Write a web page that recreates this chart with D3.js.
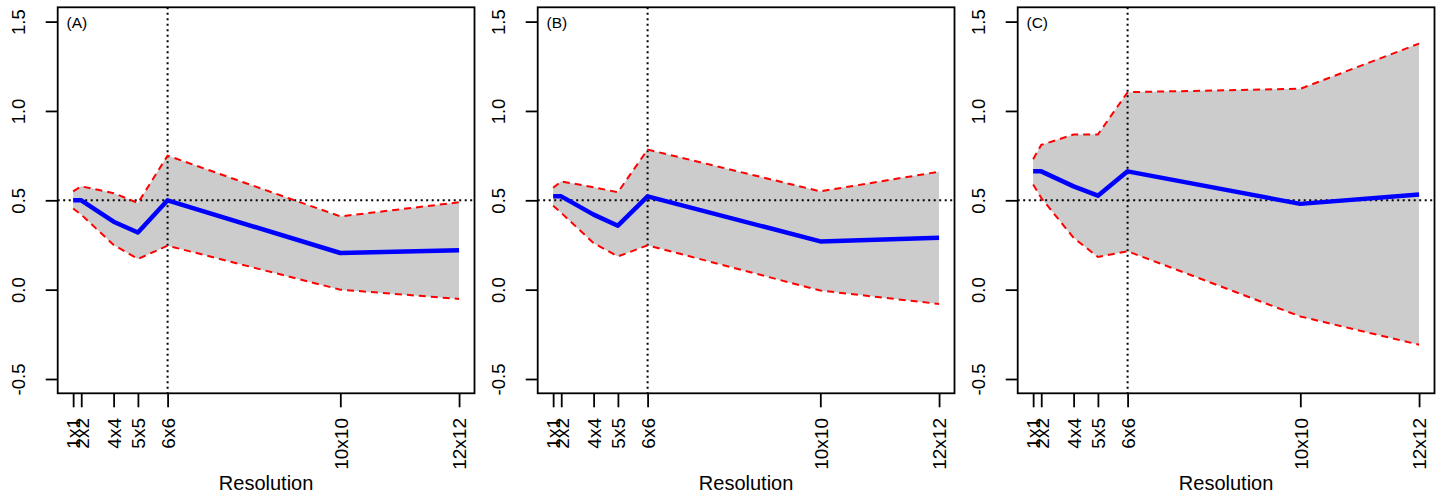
<!DOCTYPE html>
<html>
<head>
<meta charset="utf-8">
<script src="https://cdn.jsdelivr.net/npm/d3@7"></script>
<style>
  body { margin: 0; background: #fff; }
  svg { font-family: Arial, "Liberation Sans", sans-serif; }
</style>
</head>
<body>
<div id="chart"></div>
<script>
// resolution labels and the number of cells they stand for (x position)
const resLabels = ['1x1', '2x2', '4x4', '5x5', '6x6', '10x10', '12x12'];
const resCells = [1, 4, 16, 25, 36, 100, 144];
const yTicks = [-0.5, 0, 0.5, 1, 1.5];
const panelNames = ['(A)', '(B)', '(C)'];

// estimates and bounds
const meanA = [0.50, 0.50, 0.38, 0.32, 0.50, 0.205, 0.22];
const upperA = [0.55, 0.578, 0.54, 0.485, 0.75, 0.41, 0.489];
const lowerA = [0.454, 0.42, 0.25, 0.172, 0.246, 0.0, -0.052];

const meanB = [0.522, 0.522, 0.42, 0.358, 0.522, 0.27, 0.29];
const upperB = [0.57, 0.606, 0.573, 0.545, 0.784, 0.55, 0.66];
const lowerB = [0.47, 0.43, 0.26, 0.186, 0.248, -0.005, -0.08];

const meanC = [0.662, 0.662, 0.578, 0.526, 0.662, 0.48, 0.532];
const upperC = [0.73, 0.81, 0.868, 0.868, 1.105, 1.124, 1.377];
const lowerC = [0.588, 0.513, 0.29, 0.183, 0.215, -0.15, -0.308];

const panels = [
    { name: panelNames[0], mean: meanA, upper: upperA, lower: lowerA },
    { name: panelNames[1], mean: meanB, upper: upperB, lower: lowerB },
    { name: panelNames[2], mean: meanC, upper: upperC, lower: lowerC }
];

const W = 1442, H = 497;
const panelW = 480;
const box = { left: 57.7, right: 474.5, top: 7.3, bottom: 393.3 };

const svg = d3.select('#chart').append('svg')
    .attr('width', W)
    .attr('height', H);

// R style 4% padding round the data ranges
const x = d3.scaleLinear()
    .domain([1 - 143 * 0.04, 144 + 143 * 0.04])
    .range([box.left, box.right]);
const y = d3.scaleLinear()
    .domain([-0.5 - 0.08, 1.5 + 0.08])
    .range([box.bottom, box.top]);

// plain hyphen for negatives, like R
const fmtY = d => d3.format('.1f')(d).replace('\u2212', '-');

panels.forEach((p, k) => {
    const g = svg.append('g').attr('transform', 'translate(' + (k * panelW) + ',0)');
    const rows = resCells.map((c, i) => ({ c: c, m: p.mean[i], hi: p.upper[i], lo: p.lower[i] }));

    g.append('path')
        .datum(rows)
        .attr('d', d3.area().x(d => x(d.c)).y0(d => y(d.lo)).y1(d => y(d.hi)))
        .attr('fill', '#cccccc');

    // reference lines
    g.append('line')
        .attr('x1', box.left).attr('x2', box.right)
        .attr('y1', y(0.5)).attr('y2', y(0.5))
        .attr('stroke', '#000').attr('stroke-width', 2).attr('stroke-dasharray', '2,3.5');
    g.append('line')
        .attr('x1', x(36)).attr('x2', x(36))
        .attr('y1', box.top).attr('y2', box.bottom)
        .attr('stroke', '#000').attr('stroke-width', 2).attr('stroke-dasharray', '2,3.5');

    ['hi', 'lo'].forEach(key => {
        g.append('path')
            .datum(rows)
            .attr('d', d3.line().x(d => x(d.c)).y(d => y(d[key])))
            .attr('fill', 'none')
            .attr('stroke', '#ff0000')
            .attr('stroke-width', 2)
            .attr('stroke-dasharray', '7,5');
    });

    g.append('path')
        .datum(rows)
        .attr('d', d3.line().x(d => x(d.c)).y(d => y(d.m)))
        .attr('fill', 'none')
        .attr('stroke', '#0000ff')
        .attr('stroke-width', 4.5)
        .attr('stroke-linejoin', 'round');

    g.append('rect')
        .attr('x', box.left).attr('y', box.top)
        .attr('width', box.right - box.left).attr('height', box.bottom - box.top)
        .attr('fill', 'none').attr('stroke', '#000').attr('stroke-width', 1.8);

    // y axis
    const ya = g.append('g')
        .attr('transform', 'translate(' + box.left + ',0)')
        .call(d3.axisLeft(y).tickValues(yTicks).tickFormat(fmtY).tickSize(12));
    ya.select('.domain').remove();
    ya.selectAll('line').attr('stroke-width', 1.8);
    ya.selectAll('text')
        .attr('x', null).attr('dy', null)
        .attr('text-anchor', 'middle')
        .attr('transform', 'translate(-32.7,0) rotate(-90)')
        .attr('font-size', 18.5)
        .attr('font-family', 'Arial, "Liberation Sans", sans-serif')
        .attr('fill', '#000');

    // x axis
    const xa = g.append('g')
        .attr('transform', 'translate(0,' + box.bottom + ')')
        .call(d3.axisBottom(x).tickValues(resCells).tickFormat((d, i) => resLabels[i]).tickSize(14));
    xa.select('.domain').remove();
    xa.selectAll('line').attr('stroke-width', 1.8);
    xa.selectAll('text')
        .attr('x', null).attr('y', null)
        .attr('dy', '0.36em')
        .attr('text-anchor', 'end')
        .attr('transform', 'translate(0,24.7) rotate(-90)')
        .attr('font-size', 19)
        .attr('font-family', 'Arial, "Liberation Sans", sans-serif')
        .attr('fill', '#000');

    g.append('text')
        .attr('x', (box.left + box.right) / 2)
        .attr('y', 490)
        .attr('text-anchor', 'middle')
        .attr('font-size', 20)
        .text('Resolution');

    g.append('text')
        .attr('x', 66.5)
        .attr('y', 28)
        .attr('font-size', 15.5)
        .text(p.name);
});
</script>
</body>
</html>
